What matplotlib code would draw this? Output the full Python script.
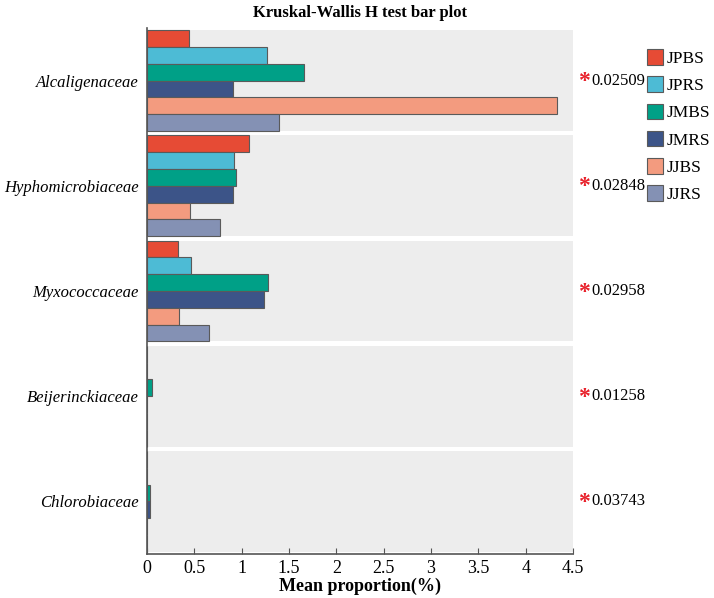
import numpy as np
import matplotlib
matplotlib.use("Agg")
import matplotlib.pyplot as plt
from matplotlib.patches import Rectangle

plt.rcParams['font.family'] = ['Liberation Serif', 'DejaVu Serif']

families = ['Alcaligenaceae', 'Hyphomicrobiaceae', 'Myxococcaceae',
            'Beijerinckiaceae', 'Chlorobiaceae']
groups = ['JPBS', 'JPRS', 'JMBS', 'JMRS', 'JJBS', 'JJRS']
colors = ['#E64B35', '#4DBBD5', '#00A087', '#3C5488', '#F39B7F', '#8491B4']

# mean proportion (%) per family, one list per group
JPBS = [0.44, 1.08, 0.33, 0.002, 0.002]
JPRS = [1.27, 0.92, 0.47, 0.002, 0.002]
JMBS = [1.66, 0.94, 1.28, 0.055, 0.03]
JMRS = [0.91, 0.91, 1.24, 0.003, 0.03]
JJBS = [4.33, 0.45, 0.34, 0.002, 0.002]
JJRS = [1.39, 0.77, 0.65, 0.003, 0.002]
p_values = ['0.02509', '0.02848', '0.02958', '0.01258', '0.03743']

values = [JPBS, JPRS, JMBS, JMRS, JJBS, JJRS]

fig = plt.figure(figsize=(7.14, 5.98), dpi=100)
ax = fig.add_axes([147 / 714, 1 - 554 / 598, 426 / 714, 526 / 598])

n = len(groups)
panel_h = 0.96
bar_h = panel_h / n
ypos = np.arange(len(families))

# grey panels behind each family
for y in ypos:
    ax.add_patch(Rectangle((0, y - panel_h / 2), 4.5, panel_h,
                           facecolor='#EDEDED', edgecolor='none', zorder=0))

for i, (g, vals) in enumerate(zip(groups, values)):
    offs = -panel_h / 2 + bar_h * (i + 0.5)
    ax.barh(ypos + offs, vals, height=bar_h, color=colors[i],
            edgecolor='#5a5a5a', linewidth=0.8, label=g, zorder=2)

ax.set_xlim(0, 4.5)
ax.set_ylim(len(families) - 0.5, -0.5)
ax.set_yticks(ypos)
ax.set_yticklabels(families, fontstyle='italic', fontsize=12)
ax.set_xticks(np.arange(0, 4.51, 0.5))
ax.set_xticklabels(['0', '0.5', '1', '1.5', '2', '2.5', '3', '3.5', '4', '4.5'],
                   fontsize=13)
ax.tick_params(axis='y', length=0, pad=6)
ax.tick_params(axis='x', direction='in', length=4, color='#555555', pad=4)
for s in ['top', 'right']:
    ax.spines[s].set_visible(False)
for s in ['left', 'bottom']:
    ax.spines[s].set_color('#555555')
    ax.spines[s].set_linewidth(1.2)

ax.set_xlabel('Mean proportion(%)', fontsize=13, fontweight='bold', labelpad=1)
ax.set_title('Kruskal-Wallis H test bar plot', fontsize=12, fontweight='bold', pad=8)

for y, p in zip(ypos, p_values):
    ax.text(4.553, y + 0.01, '*', color='#E8202A', fontsize=17, fontweight='bold',
            ha='left', va='center', clip_on=False)
    ax.text(4.69, y, p, fontsize=12, ha='left', va='center', clip_on=False)

fig.legend(loc='upper left', bbox_to_anchor=(647 / 714, 1 - 49 / 598),
           frameon=False, fontsize=12.5, handlelength=0.95, handleheight=1.0,
           handletextpad=0.2, labelspacing=0.55, borderaxespad=0, borderpad=0)

fig.savefig('out.png', dpi=100)
